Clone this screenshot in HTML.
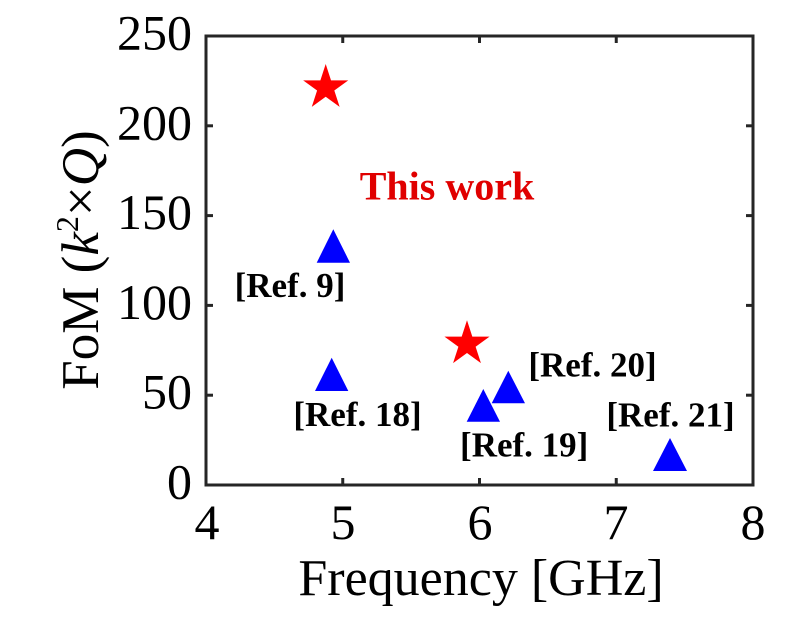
<!DOCTYPE html>
<html>
<head>
<meta charset="utf-8">
<style>
html,body{margin:0;padding:0;background:#fff;}
svg{display:block;}
text{font-family:"Liberation Serif",serif;}
</style>
</head>
<body>
<svg width="796" height="623" viewBox="0 0 796 623" xmlns="http://www.w3.org/2000/svg">
<rect x="0" y="0" width="796" height="623" fill="#fff"/>
<!-- frame -->
<rect x="206" y="36" width="547" height="449" fill="none" stroke="#262626" stroke-width="3"/>
<!-- ticks -->
<g stroke="#262626" stroke-width="3">
  <line x1="342.75" y1="485" x2="342.75" y2="478"/>
  <line x1="479.5" y1="485" x2="479.5" y2="478"/>
  <line x1="616.25" y1="485" x2="616.25" y2="478"/>
  <line x1="342.75" y1="36" x2="342.75" y2="43"/>
  <line x1="479.5" y1="36" x2="479.5" y2="43"/>
  <line x1="616.25" y1="36" x2="616.25" y2="43"/>
  <line x1="206" y1="395.2" x2="213" y2="395.2"/>
  <line x1="206" y1="305.4" x2="213" y2="305.4"/>
  <line x1="206" y1="215.6" x2="213" y2="215.6"/>
  <line x1="206" y1="125.8" x2="213" y2="125.8"/>
  <line x1="753" y1="395.2" x2="746" y2="395.2"/>
  <line x1="753" y1="305.4" x2="746" y2="305.4"/>
  <line x1="753" y1="215.6" x2="746" y2="215.6"/>
  <line x1="753" y1="125.8" x2="746" y2="125.8"/>
</g>
<!-- y tick labels -->
<g font-size="50" text-anchor="end" fill="#000">
  <text x="192" y="498.5">0</text>
  <text x="192" y="408.7">50</text>
  <text x="192" y="318.9">100</text>
  <text x="192" y="229.1">150</text>
  <text x="192" y="139.3">200</text>
  <text x="192" y="49.5">250</text>
</g>
<!-- x tick labels -->
<g font-size="50" text-anchor="middle" fill="#000">
  <text x="207" y="539">4</text>
  <text x="343" y="539">5</text>
  <text x="480" y="539">6</text>
  <text x="616" y="539">7</text>
  <text x="753" y="539">8</text>
</g>
<!-- axis titles -->
<text x="481" y="595" font-size="52" text-anchor="middle" fill="#000">Frequency [GHz]</text>
<text transform="translate(98,260) rotate(-90)" font-size="53" text-anchor="middle" fill="#000">FoM (<tspan font-style="italic">k</tspan><tspan font-size="32" dy="-20">2</tspan><tspan dy="20">×</tspan><tspan font-style="italic">Q</tspan>)</text>
<!-- stars -->
<g fill="#ff0000">
  <path transform="translate(325.7,87.7)" d="M0,-23.7 L5.32,-7.32 L22.54,-7.32 L8.61,2.80 L13.93,19.17 L0,9.05 L-13.93,19.17 L-8.61,2.80 L-22.54,-7.32 L-5.32,-7.32Z"/>
  <path transform="translate(467,344)" d="M0,-23.7 L5.32,-7.32 L22.54,-7.32 L8.61,2.80 L13.93,19.17 L0,9.05 L-13.93,19.17 L-8.61,2.80 L-22.54,-7.32 L-5.32,-7.32Z"/>
</g>
<!-- triangles -->
<g fill="#0000ff">
  <polygon points="316.7,262.7 333.3,229.3 350,262.7"/>
  <polygon points="315,391 331.7,357.7 348.3,391"/>
  <polygon points="466.7,421.7 483.3,389 500,421.7"/>
  <polygon points="491.7,403.3 508.3,370.7 525,403.3"/>
  <polygon points="653,471 670,438 687,471"/>
</g>
<!-- labels -->
<text x="447" y="199.3" font-size="40" font-weight="bold" text-anchor="middle" fill="#e00000">This work</text>
<g font-size="35" font-weight="bold" text-anchor="middle" fill="#000">
  <text x="290" y="297">[Ref. 9]</text>
  <text x="357.5" y="426">[Ref. 18]</text>
  <text x="524.2" y="456.7">[Ref. 19]</text>
  <text x="592.5" y="376.7">[Ref. 20]</text>
  <text x="670.5" y="426.7">[Ref. 21]</text>
</g>
</svg>
</body>
</html>
